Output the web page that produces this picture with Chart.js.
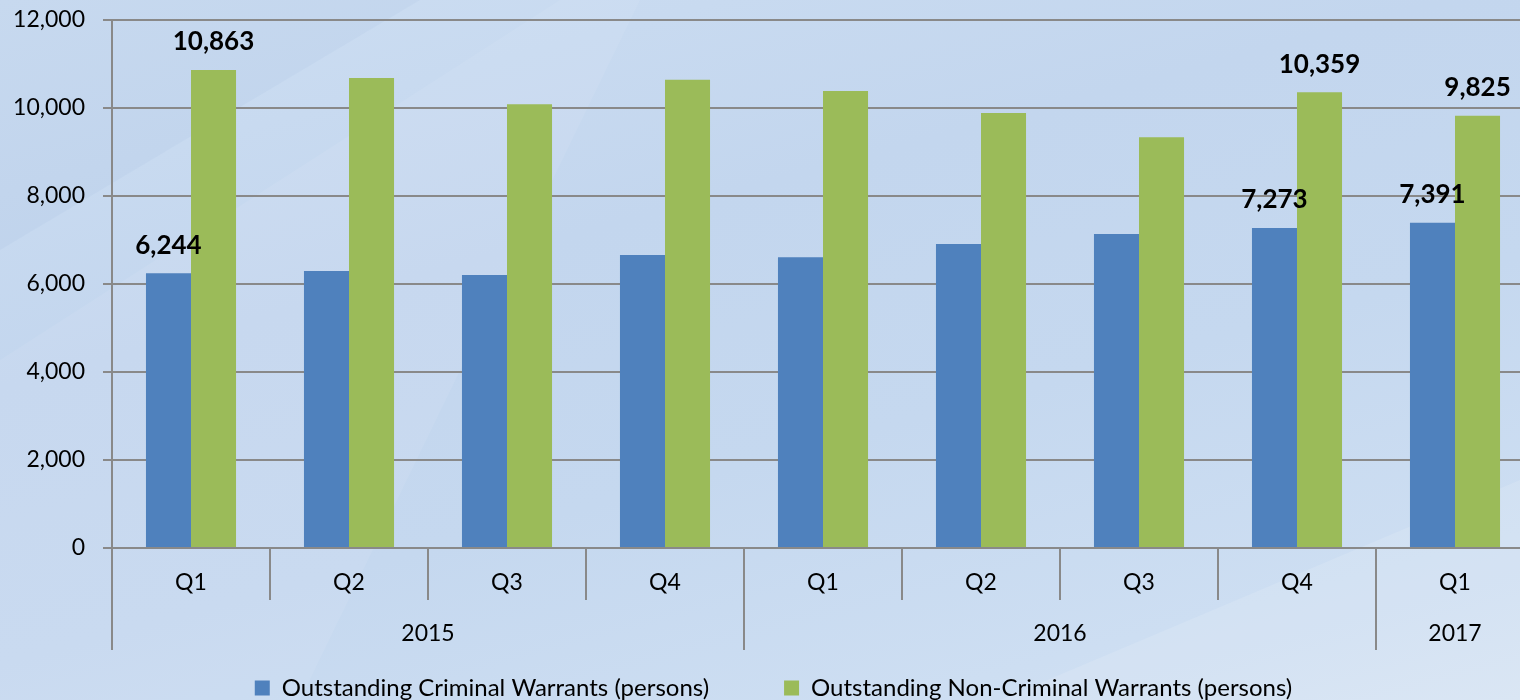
<!DOCTYPE html>
<html>
<head>
<meta charset="utf-8">
<script src="https://cdn.jsdelivr.net/npm/chart.js@4.4.1/dist/chart.umd.min.js"></script>
<style>
  html, body { margin: 0; padding: 0; overflow: hidden; width: 1520px; height: 700px; }
  body {
    position: relative;
    background: linear-gradient(165deg, #cddef2 0%, #c3d6ee 35%, #c5d8ef 60%, #cddef2 85%, #d5e3f3 100%);
  }
  .shape { position: absolute; pointer-events: none; left: 0; top: 0; width: 1520px; height: 700px; }
  #s1 { background: rgba(255,255,255,0.07);
        clip-path: polygon(0 360px, 560px 0, 640px 0, 300px 700px, 0 700px); }
  #s2 { background: rgba(255,255,255,0.12);
        clip-path: polygon(1000px 700px, 1520px 480px, 1520px 700px); }
  #s3 { background: rgba(150,180,220,0.10);
        clip-path: polygon(0 0, 420px 0, 0 250px); }
  #wrap { position: absolute; left: 0; top: 0; width: 1547px; height: 700px; }
</style>
</head>
<body>
<div class="shape" id="s3"></div>
<div class="shape" id="s1"></div>
<div class="shape" id="s2"></div>
<div id="wrap"><canvas id="c" width="1547" height="700"></canvas></div>
<script>
const quarters = ['Q1', 'Q2', 'Q3', 'Q4', 'Q1', 'Q2', 'Q3', 'Q4', 'Q1'];
const years = ['2015', '2016', '2017'];
const yearSpans = [4, 4, 1];
const criminal = [6244, 6295, 6205, 6659, 6606, 6909, 7136, 7273, 7391];
const nonCriminal = [10863, 10682, 10084, 10644, 10386, 9886, 9334, 10359, 9825];
const labelledIdx = [0, 7, 8];
const yTicks = [0, 2000, 4000, 6000, 8000, 10000, 12000];

const GRID = '#898989';
const FONT = 'Lato';

const yearAxisPlugin = {
  id: 'yearAxis',
  afterDraw(chart) {
    const x = chart.scales.x;
    const ctx = chart.ctx;
    const top = x.top;
    ctx.save();
    ctx.strokeStyle = GRID;
    ctx.lineWidth = 2;
    let start = 0;
    const bounds = [];
    years.forEach((yr, i) => {
      const left = x.getPixelForValue(start - 0.5);
      const right = x.getPixelForValue(start + yearSpans[i] - 0.5);
      bounds.push(left);
      ctx.fillStyle = '#000';
      ctx.font = '23px ' + FONT;
      ctx.textAlign = 'center';
      ctx.textBaseline = 'middle';
      ctx.fillText(yr, (left + right) / 2, 634);
      start += yearSpans[i];
    });
    bounds.forEach(b => {
      const px = Math.round(b);
      ctx.beginPath();
      ctx.moveTo(px, top);
      ctx.lineTo(px, 650);
      ctx.stroke();
    });
    ctx.restore();
  }
};

const valueLabelPlugin = {
  id: 'valueLabels',
  afterDatasetsDraw(chart) {
    const ctx = chart.ctx;
    ctx.save();
    ctx.fillStyle = '#000';
    ctx.font = 'bold 26px ' + FONT;
    ctx.textAlign = 'center';
    ctx.textBaseline = 'middle';
    chart.data.datasets.forEach((ds, di) => {
      const meta = chart.getDatasetMeta(di);
      labelledIdx.forEach(i => {
        const el = meta.data[i];
        ctx.fillText(ds.data[i].toLocaleString('en-US'), el.x, el.y - 28);
      });
    });
    ctx.restore();
  }
};

new Chart(document.getElementById('c'), {
  type: 'bar',
  data: {
    labels: quarters,
    datasets: [
      { label: 'Outstanding Criminal Warrants (persons)', data: criminal, backgroundColor: '#4f81bd', borderWidth: 0 },
      { label: 'Outstanding Non-Criminal Warrants (persons)', data: nonCriminal, backgroundColor: '#9bbb59', borderWidth: 0 }
    ]
  },
  options: {
    responsive: false,
    animation: false,
    layout: { padding: { top: 20, left: 13, right: 13, bottom: -10 } },
    datasets: { bar: { categoryPercentage: 0.57, barPercentage: 1.0 } },
    plugins: {
      legend: {
        position: 'bottom',
        labels: {
          boxWidth: 15, boxHeight: 15, padding: 75, color: '#000',
          font: { family: FONT, size: 24 }
        }
      },
      tooltip: { enabled: false }
    },
    scales: {
      x: {
        offset: true,
        grid: { display: true, offset: true, drawOnChartArea: false, drawTicks: true, tickLength: 52, color: GRID, lineWidth: 2 },
        border: { display: true, color: GRID, width: 2 },
        ticks: { color: '#000', font: { family: FONT, size: 23 }, padding: -31, maxRotation: 0, autoSkip: false },
        afterFit(s) { s.height = 53; s.paddingLeft = 0; s.paddingRight = 0; }
      },
      y: {
        min: 0, max: 12000,
        afterBuildTicks(s) { s.ticks = yTicks.map(v => ({ value: v })); },
        grid: { color: GRID, lineWidth: 2, tickLength: 9, drawTicks: true },
        border: { display: true, color: GRID, width: 2 },
        ticks: {
          color: '#000', font: { family: FONT, size: 23 }, padding: 18,
          callback: v => v.toLocaleString('en-US')
        },
        afterFit(s) { s.width = 99; s.paddingTop = 0; s.paddingBottom = 0; }
      }
    }
  },
  plugins: [yearAxisPlugin, valueLabelPlugin]
});
</script>
</body>
</html>
